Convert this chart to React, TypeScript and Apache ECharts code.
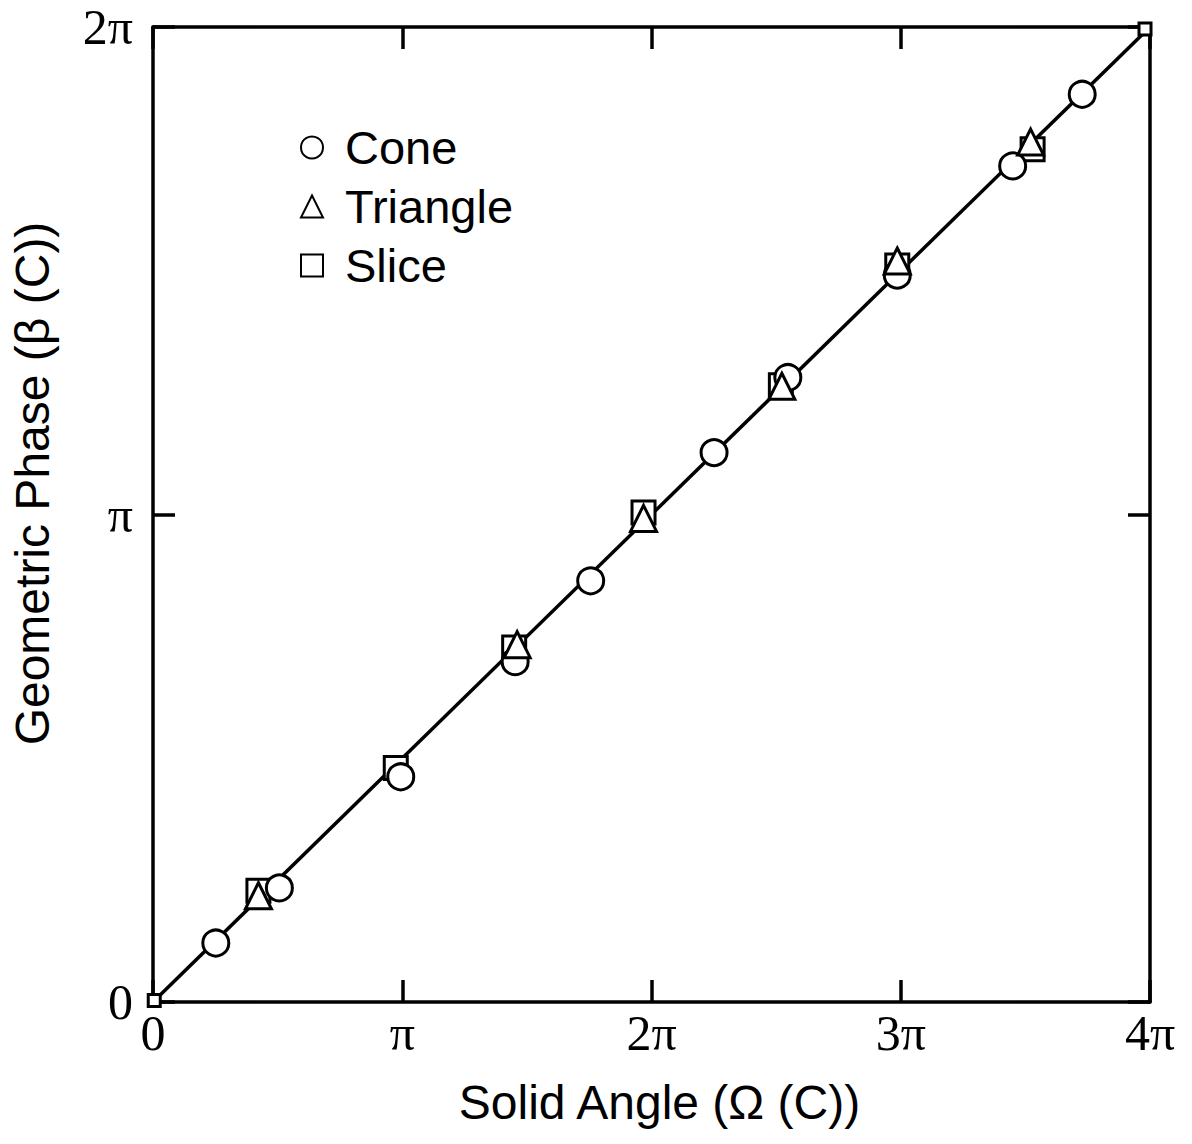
import React, { useEffect, useRef } from "react";
import * as echarts from "echarts";

// values in units of π
const coneX = [0.252, 0.507, 0.994, 1.453, 1.756, 2.251, 2.547, 2.986, 3.449, 3.728];
const coneY = [0.121, 0.234, 0.462, 0.698, 0.864, 1.127, 1.281, 1.491, 1.715, 1.862];
const triX = [0.423, 1.461, 1.968, 2.523, 2.986, 3.521];
const triY = [0.218, 0.733, 0.992, 1.263, 1.52, 1.764];
const sliceX = [0.005, 0.423, 0.974, 1.449, 1.968, 2.519, 2.986, 3.529, 3.98];
const sliceY = [0.003, 0.228, 0.48, 0.727, 1.004, 1.265, 1.511, 1.749, 1.996];
const fitX = [0, 4];
const fitY = [0, 2];
const xTicks = [0, 1, 2, 3, 4];
const yTicks = [0, 1, 2];

const piLabel = (v: number) => (v === 0 ? "0" : v === 1 ? "π" : `${v}π`);
const zip = (a: number[], b: number[]) => a.map((v, i) => [v, b[i]]);

const mark = { color: "#fff", borderColor: "#000", borderWidth: 3, opacity: 1 };
const serif = "'Liberation Serif', 'DejaVu Serif', serif";
const sans = "'Liberation Sans', Arial, sans-serif";

export default function App() {
  const ref = useRef<HTMLDivElement>(null);
  useEffect(() => {
    const chart = echarts.init(ref.current!, undefined, { renderer: "svg" });
    const axisCommon = {
      type: "value",
      interval: 1,
      axisLine: { show: true, onZero: false, lineStyle: { color: "#000", width: 3.5 } },
      axisTick: { show: true, inside: true, length: 22, lineStyle: { color: "#000", width: 3.5 } },
      splitLine: { show: false },
    };
    chart.setOption({
      animation: false,
      backgroundColor: "#fff",
      grid: { left: 147, top: 27, width: 1003, height: 975 },
      legend: {
        orient: "vertical",
        left: 295,
        top: 119,
        itemGap: 12,
        itemWidth: 22,
        itemHeight: 22,
        textStyle: { fontFamily: sans, fontSize: 47, color: "#000", padding: [0, 0, 0, 17] },
        data: ["Cone", "Triangle", "Slice"],
      },
      xAxis: [
        {
          ...axisCommon,
          min: 0,
          max: 4,
          name: "Solid Angle (Ω (C))",
          nameLocation: "middle",
          nameGap: 76,
          nameTextStyle: { fontFamily: sans, fontSize: 48, color: "#000", padding: [0, 0, 0, 16] },
          axisLabel: { formatter: piLabel, fontFamily: serif, fontSize: 50, color: "#000", margin: 6, customValues: xTicks },
        },
        {
          ...axisCommon,
          min: 0,
          max: 4,
          position: "top",
          axisLabel: { show: false },
        },
      ],
      yAxis: [
        {
          ...axisCommon,
          min: 0,
          max: 2,
          name: "Geometric Phase (β (C))",
          nameLocation: "middle",
          nameGap: 97,
          nameTextStyle: { fontFamily: sans, fontSize: 48, color: "#000", padding: [0, 0, 0, 62] },
          axisLabel: { formatter: piLabel, fontFamily: serif, fontSize: 50, color: "#000", margin: 20, customValues: yTicks },
        },
        {
          ...axisCommon,
          min: 0,
          max: 2,
          position: "right",
          axisLabel: { show: false },
        },
      ],
      series: [
        {
          type: "line",
          data: zip(fitX, fitY),
          symbol: "none",
          lineStyle: { color: "#000", width: 3.5 },
          z: 1,
        },
        {
          name: "Cone",
          type: "scatter",
          symbol: "circle",
          symbolSize: 26,
          itemStyle: mark,
          data: zip(coneX, coneY),
          z: 3,
        },
        {
          name: "Triangle",
          type: "scatter",
          symbol: "triangle",
          symbolSize: 26,
          itemStyle: mark,
          data: zip(triX, triY),
          z: 4,
        },
        {
          name: "Slice",
          type: "scatter",
          symbol: "rect",
          symbolSize: (v: number[]) => (v[0] < 0.1 || v[0] > 3.9 ? 12 : 23),
          itemStyle: mark,
          data: zip(sliceX, sliceY),
          z: 2,
        },
      ],
    });
    return () => chart.dispose();
  }, []);
  return (
    <div
      ref={ref}
      style={{ position: "absolute", left: 0, top: 0, width: 1192, height: 1144 }}
    />
  );
}
